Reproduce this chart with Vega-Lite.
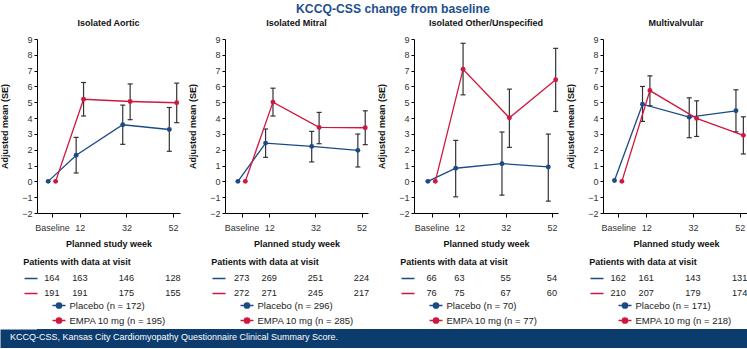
{
  "$schema": "https://vega.github.io/schema/vega-lite/v6.json",
  "padding": {"left": 0, "top": 2, "right": 0, "bottom": 0},
  "background": "white",
  "title": {"text": "KCCQ-CSS change from baseline", "anchor": "middle", "dx": 18, "fontSize": 12.2, "fontWeight": "bold", "color": "#1e4f8c", "offset": 4},
  "datasets": {
    "means": [
      {"panel": "Isolated Aortic", "group": "Placebo", "week": 0, "mean": 0, "lo": null, "hi": null},
      {"panel": "Isolated Aortic", "group": "Placebo", "week": 12, "mean": 1.65, "lo": 0.53, "hi": 2.78},
      {"panel": "Isolated Aortic", "group": "Placebo", "week": 32, "mean": 3.58, "lo": 2.34, "hi": 4.82},
      {"panel": "Isolated Aortic", "group": "Placebo", "week": 52, "mean": 3.28, "lo": 1.9, "hi": 4.67},
      {"panel": "Isolated Aortic", "group": "EMPA", "week": 0, "mean": 0, "lo": null, "hi": null},
      {"panel": "Isolated Aortic", "group": "EMPA", "week": 12, "mean": 5.19, "lo": 4.13, "hi": 6.25},
      {"panel": "Isolated Aortic", "group": "EMPA", "week": 32, "mean": 5.05, "lo": 3.9, "hi": 6.16},
      {"panel": "Isolated Aortic", "group": "EMPA", "week": 52, "mean": 4.97, "lo": 3.71, "hi": 6.21},
      {"panel": "Isolated Mitral", "group": "Placebo", "week": 0, "mean": 0, "lo": null, "hi": null},
      {"panel": "Isolated Mitral", "group": "Placebo", "week": 12, "mean": 2.42, "lo": 1.52, "hi": 3.31},
      {"panel": "Isolated Mitral", "group": "Placebo", "week": 32, "mean": 2.21, "lo": 1.23, "hi": 3.16},
      {"panel": "Isolated Mitral", "group": "Placebo", "week": 52, "mean": 1.96, "lo": 0.91, "hi": 2.99},
      {"panel": "Isolated Mitral", "group": "EMPA", "week": 0, "mean": 0, "lo": null, "hi": null},
      {"panel": "Isolated Mitral", "group": "EMPA", "week": 12, "mean": 5.01, "lo": 4.13, "hi": 5.89},
      {"panel": "Isolated Mitral", "group": "EMPA", "week": 32, "mean": 3.41, "lo": 2.38, "hi": 4.36},
      {"panel": "Isolated Mitral", "group": "EMPA", "week": 52, "mean": 3.39, "lo": 2.32, "hi": 4.46},
      {"panel": "Isolated Other/Unspecified", "group": "Placebo", "week": 0, "mean": 0, "lo": null, "hi": null},
      {"panel": "Isolated Other/Unspecified", "group": "Placebo", "week": 12, "mean": 0.83, "lo": -0.98, "hi": 2.59},
      {"panel": "Isolated Other/Unspecified", "group": "Placebo", "week": 32, "mean": 1.12, "lo": -0.87, "hi": 3.12},
      {"panel": "Isolated Other/Unspecified", "group": "Placebo", "week": 52, "mean": 0.91, "lo": -1.25, "hi": 2.99},
      {"panel": "Isolated Other/Unspecified", "group": "EMPA", "week": 0, "mean": 0, "lo": null, "hi": null},
      {"panel": "Isolated Other/Unspecified", "group": "EMPA", "week": 12, "mean": 7.09, "lo": 5.47, "hi": 8.73},
      {"panel": "Isolated Other/Unspecified", "group": "EMPA", "week": 32, "mean": 4.02, "lo": 2.15, "hi": 5.83},
      {"panel": "Isolated Other/Unspecified", "group": "EMPA", "week": 52, "mean": 6.42, "lo": 4.42, "hi": 8.41},
      {"panel": "Multivalvular", "group": "Placebo", "week": 0, "mean": 0.05, "lo": null, "hi": null},
      {"panel": "Multivalvular", "group": "Placebo", "week": 12, "mean": 4.88, "lo": 3.79, "hi": 6.0},
      {"panel": "Multivalvular", "group": "Placebo", "week": 32, "mean": 4.06, "lo": 2.76, "hi": 5.28},
      {"panel": "Multivalvular", "group": "Placebo", "week": 52, "mean": 4.46, "lo": 3.13, "hi": 5.79},
      {"panel": "Multivalvular", "group": "EMPA", "week": 0, "mean": 0, "lo": null, "hi": null},
      {"panel": "Multivalvular", "group": "EMPA", "week": 12, "mean": 5.74, "lo": 4.78, "hi": 6.67},
      {"panel": "Multivalvular", "group": "EMPA", "week": 32, "mean": 3.98, "lo": 2.84, "hi": 5.09},
      {"panel": "Multivalvular", "group": "EMPA", "week": 52, "mean": 2.91, "lo": 1.73, "hi": 4.08}
    ],
    "counts": [
      {"panel": "Isolated Aortic", "group": "Placebo", "legend": "Placebo (n = 172)", "week": 0, "n": 164},
      {"panel": "Isolated Aortic", "group": "Placebo", "legend": "Placebo (n = 172)", "week": 12, "n": 163},
      {"panel": "Isolated Aortic", "group": "Placebo", "legend": "Placebo (n = 172)", "week": 32, "n": 146},
      {"panel": "Isolated Aortic", "group": "Placebo", "legend": "Placebo (n = 172)", "week": 52, "n": 128},
      {"panel": "Isolated Aortic", "group": "EMPA", "legend": "EMPA 10 mg (n = 195)", "week": 0, "n": 191},
      {"panel": "Isolated Aortic", "group": "EMPA", "legend": "EMPA 10 mg (n = 195)", "week": 12, "n": 191},
      {"panel": "Isolated Aortic", "group": "EMPA", "legend": "EMPA 10 mg (n = 195)", "week": 32, "n": 175},
      {"panel": "Isolated Aortic", "group": "EMPA", "legend": "EMPA 10 mg (n = 195)", "week": 52, "n": 155},
      {"panel": "Isolated Mitral", "group": "Placebo", "legend": "Placebo (n = 296)", "week": 0, "n": 273},
      {"panel": "Isolated Mitral", "group": "Placebo", "legend": "Placebo (n = 296)", "week": 12, "n": 269},
      {"panel": "Isolated Mitral", "group": "Placebo", "legend": "Placebo (n = 296)", "week": 32, "n": 251},
      {"panel": "Isolated Mitral", "group": "Placebo", "legend": "Placebo (n = 296)", "week": 52, "n": 224},
      {"panel": "Isolated Mitral", "group": "EMPA", "legend": "EMPA 10 mg (n = 285)", "week": 0, "n": 272},
      {"panel": "Isolated Mitral", "group": "EMPA", "legend": "EMPA 10 mg (n = 285)", "week": 12, "n": 271},
      {"panel": "Isolated Mitral", "group": "EMPA", "legend": "EMPA 10 mg (n = 285)", "week": 32, "n": 245},
      {"panel": "Isolated Mitral", "group": "EMPA", "legend": "EMPA 10 mg (n = 285)", "week": 52, "n": 217},
      {"panel": "Isolated Other/Unspecified", "group": "Placebo", "legend": "Placebo (n = 70)", "week": 0, "n": 66},
      {"panel": "Isolated Other/Unspecified", "group": "Placebo", "legend": "Placebo (n = 70)", "week": 12, "n": 63},
      {"panel": "Isolated Other/Unspecified", "group": "Placebo", "legend": "Placebo (n = 70)", "week": 32, "n": 55},
      {"panel": "Isolated Other/Unspecified", "group": "Placebo", "legend": "Placebo (n = 70)", "week": 52, "n": 54},
      {"panel": "Isolated Other/Unspecified", "group": "EMPA", "legend": "EMPA 10 mg (n = 77)", "week": 0, "n": 76},
      {"panel": "Isolated Other/Unspecified", "group": "EMPA", "legend": "EMPA 10 mg (n = 77)", "week": 12, "n": 75},
      {"panel": "Isolated Other/Unspecified", "group": "EMPA", "legend": "EMPA 10 mg (n = 77)", "week": 32, "n": 67},
      {"panel": "Isolated Other/Unspecified", "group": "EMPA", "legend": "EMPA 10 mg (n = 77)", "week": 52, "n": 60},
      {"panel": "Multivalvular", "group": "Placebo", "legend": "Placebo (n = 171)", "week": 0, "n": 162},
      {"panel": "Multivalvular", "group": "Placebo", "legend": "Placebo (n = 171)", "week": 12, "n": 161},
      {"panel": "Multivalvular", "group": "Placebo", "legend": "Placebo (n = 171)", "week": 32, "n": 143},
      {"panel": "Multivalvular", "group": "Placebo", "legend": "Placebo (n = 171)", "week": 52, "n": 131},
      {"panel": "Multivalvular", "group": "EMPA", "legend": "EMPA 10 mg (n = 218)", "week": 0, "n": 210},
      {"panel": "Multivalvular", "group": "EMPA", "legend": "EMPA 10 mg (n = 218)", "week": 12, "n": 207},
      {"panel": "Multivalvular", "group": "EMPA", "legend": "EMPA 10 mg (n = 218)", "week": 32, "n": 179},
      {"panel": "Multivalvular", "group": "EMPA", "legend": "EMPA 10 mg (n = 218)", "week": 52, "n": 174}
    ]
  },
  "vconcat": [
    {
      "hconcat": [
        {
          "vconcat": [
            {
              "width": 143, "height": 174,
              "title": {"text": "Isolated Aortic"},
              "data": {"name": "means"},
              "transform": [{"filter": {"field": "panel", "equal": "Isolated Aortic"}}],
              "encoding": {
                "x": {"field": "week", "type": "quantitative", "title": "Planned study week", "scale": {"domain": [-6.4, 55], "nice": false, "zero": false}, "axis": {"values": [0, 12, 32, 52], "labelExpr": "datum.value === 0 ? 'Baseline' : datum.label"}},
                "y": {"field": "mean", "type": "quantitative", "title": "Adjusted mean (SE)", "scale": {"domain": [-2, 9], "nice": false}, "axis": {"values": [-2, -1, 0, 1, 2, 3, 4, 5, 6, 7, 8, 9]}}
              },
              "layer": [
                {"transform": [{"filter": {"field": "group", "equal": "Placebo"}}], "layer": [
                  {"mark": {"type": "line", "color": "#1c4a87", "strokeWidth": 1.3, "xOffset": -3.7}},
                  {"transform": [{"filter": "isValid(datum.lo)"}], "mark": {"type": "rule", "color": "#333333", "strokeWidth": 1.2, "xOffset": -3.7}, "encoding": {"y": {"field": "lo", "type": "quantitative", "title": "Adjusted mean (SE)"}, "y2": {"field": "hi"}}},
                  {"transform": [{"filter": "isValid(datum.lo)"}], "mark": {"type": "tick", "orient": "horizontal", "color": "#333333", "size": 5, "thickness": 1.2, "opacity": 1, "xOffset": -3.7}, "encoding": {"y": {"field": "lo", "type": "quantitative", "title": "Adjusted mean (SE)"}}},
                  {"transform": [{"filter": "isValid(datum.hi)"}], "mark": {"type": "tick", "orient": "horizontal", "color": "#333333", "size": 5, "thickness": 1.2, "opacity": 1, "xOffset": -3.7}, "encoding": {"y": {"field": "hi", "type": "quantitative", "title": "Adjusted mean (SE)"}}},
                  {"mark": {"type": "point", "filled": true, "opacity": 1, "size": 24, "color": "#1c4a87", "xOffset": -3.7}}
                ]},
                {"transform": [{"filter": {"field": "group", "equal": "EMPA"}}], "layer": [
                  {"mark": {"type": "line", "color": "#d0173f", "strokeWidth": 1.3, "xOffset": 3.7}},
                  {"transform": [{"filter": "isValid(datum.lo)"}], "mark": {"type": "rule", "color": "#333333", "strokeWidth": 1.2, "xOffset": 3.7}, "encoding": {"y": {"field": "lo", "type": "quantitative", "title": "Adjusted mean (SE)"}, "y2": {"field": "hi"}}},
                  {"transform": [{"filter": "isValid(datum.lo)"}], "mark": {"type": "tick", "orient": "horizontal", "color": "#333333", "size": 5, "thickness": 1.2, "opacity": 1, "xOffset": 3.7}, "encoding": {"y": {"field": "lo", "type": "quantitative", "title": "Adjusted mean (SE)"}}},
                  {"transform": [{"filter": "isValid(datum.hi)"}], "mark": {"type": "tick", "orient": "horizontal", "color": "#333333", "size": 5, "thickness": 1.2, "opacity": 1, "xOffset": 3.7}, "encoding": {"y": {"field": "hi", "type": "quantitative", "title": "Adjusted mean (SE)"}}},
                  {"mark": {"type": "point", "filled": true, "opacity": 1, "size": 24, "color": "#d0173f", "xOffset": 3.7}}
                ]}
              ]
            },
            {
              "width": 143, "height": 31,
              "title": {"text": "Patients with data at visit", "anchor": "start", "frame": "bounds", "offset": 3},
              "data": {"name": "counts"},
              "transform": [{"filter": {"field": "panel", "equal": "Isolated Aortic"}}],
              "encoding": {
                "x": {"field": "week", "type": "quantitative", "scale": {"domain": [-6.4, 55], "nice": false, "zero": false}, "axis": null},
                "y": {"field": "group", "type": "nominal", "scale": {"type": "point", "padding": 0.5, "domain": ["Placebo", "EMPA"]}, "axis": {"title": null, "labels": false, "domain": false, "tickSize": 13, "tickWidth": 1.5, "tickColor": {"condition": {"test": "datum.value === 'Placebo'", "value": "#1c4a87"}, "value": "#d0173f"}}}
              },
              "layer": [
                {"mark": {"type": "text", "fontSize": 9.2, "color": "#222222"}, "encoding": {"text": {"field": "n", "type": "quantitative"}}},
                {"mark": {"type": "point", "filled": true, "opacity": 0}, "encoding": {
                  "fill": {"field": "legend", "type": "nominal", "sort": "descending", "scale": {"range": ["#1c4a87", "#d0173f"]}},
                  "stroke": {"field": "legend", "type": "nominal", "sort": "descending", "scale": {"range": ["#1c4a87", "#d0173f"]}}
                }}
              ]
            }
          ],
          "spacing": 57, "bounds": "flush",
          "resolve": {"scale": {"fill": "independent", "stroke": "independent"}, "legend": {"fill": "independent", "stroke": "independent"}}
        },
        {
          "vconcat": [
            {
              "width": 143, "height": 174,
              "title": {"text": "Isolated Mitral"},
              "data": {"name": "means"},
              "transform": [{"filter": {"field": "panel", "equal": "Isolated Mitral"}}],
              "encoding": {
                "x": {"field": "week", "type": "quantitative", "title": "Planned study week", "scale": {"domain": [-7.2, 54.8], "nice": false, "zero": false}, "axis": {"values": [0, 12, 32, 52], "labelExpr": "datum.value === 0 ? 'Baseline' : datum.label"}},
                "y": {"field": "mean", "type": "quantitative", "title": "Adjusted mean (SE)", "scale": {"domain": [-2, 9], "nice": false}, "axis": {"values": [-2, -1, 0, 1, 2, 3, 4, 5, 6, 7, 8, 9]}}
              },
              "layer": [
                {"transform": [{"filter": {"field": "group", "equal": "Placebo"}}], "layer": [
                  {"mark": {"type": "line", "color": "#1c4a87", "strokeWidth": 1.3, "xOffset": -3.7}},
                  {"transform": [{"filter": "isValid(datum.lo)"}], "mark": {"type": "rule", "color": "#333333", "strokeWidth": 1.2, "xOffset": -3.7}, "encoding": {"y": {"field": "lo", "type": "quantitative", "title": "Adjusted mean (SE)"}, "y2": {"field": "hi"}}},
                  {"transform": [{"filter": "isValid(datum.lo)"}], "mark": {"type": "tick", "orient": "horizontal", "color": "#333333", "size": 5, "thickness": 1.2, "opacity": 1, "xOffset": -3.7}, "encoding": {"y": {"field": "lo", "type": "quantitative", "title": "Adjusted mean (SE)"}}},
                  {"transform": [{"filter": "isValid(datum.hi)"}], "mark": {"type": "tick", "orient": "horizontal", "color": "#333333", "size": 5, "thickness": 1.2, "opacity": 1, "xOffset": -3.7}, "encoding": {"y": {"field": "hi", "type": "quantitative", "title": "Adjusted mean (SE)"}}},
                  {"mark": {"type": "point", "filled": true, "opacity": 1, "size": 24, "color": "#1c4a87", "xOffset": -3.7}}
                ]},
                {"transform": [{"filter": {"field": "group", "equal": "EMPA"}}], "layer": [
                  {"mark": {"type": "line", "color": "#d0173f", "strokeWidth": 1.3, "xOffset": 3.7}},
                  {"transform": [{"filter": "isValid(datum.lo)"}], "mark": {"type": "rule", "color": "#333333", "strokeWidth": 1.2, "xOffset": 3.7}, "encoding": {"y": {"field": "lo", "type": "quantitative", "title": "Adjusted mean (SE)"}, "y2": {"field": "hi"}}},
                  {"transform": [{"filter": "isValid(datum.lo)"}], "mark": {"type": "tick", "orient": "horizontal", "color": "#333333", "size": 5, "thickness": 1.2, "opacity": 1, "xOffset": 3.7}, "encoding": {"y": {"field": "lo", "type": "quantitative", "title": "Adjusted mean (SE)"}}},
                  {"transform": [{"filter": "isValid(datum.hi)"}], "mark": {"type": "tick", "orient": "horizontal", "color": "#333333", "size": 5, "thickness": 1.2, "opacity": 1, "xOffset": 3.7}, "encoding": {"y": {"field": "hi", "type": "quantitative", "title": "Adjusted mean (SE)"}}},
                  {"mark": {"type": "point", "filled": true, "opacity": 1, "size": 24, "color": "#d0173f", "xOffset": 3.7}}
                ]}
              ]
            },
            {
              "width": 143, "height": 31,
              "title": {"text": "Patients with data at visit", "anchor": "start", "frame": "bounds", "offset": 3},
              "data": {"name": "counts"},
              "transform": [{"filter": {"field": "panel", "equal": "Isolated Mitral"}}],
              "encoding": {
                "x": {"field": "week", "type": "quantitative", "scale": {"domain": [-7.2, 54.8], "nice": false, "zero": false}, "axis": null},
                "y": {"field": "group", "type": "nominal", "scale": {"type": "point", "padding": 0.5, "domain": ["Placebo", "EMPA"]}, "axis": {"title": null, "labels": false, "domain": false, "tickSize": 13, "tickWidth": 1.5, "tickColor": {"condition": {"test": "datum.value === 'Placebo'", "value": "#1c4a87"}, "value": "#d0173f"}}}
              },
              "layer": [
                {"mark": {"type": "text", "fontSize": 9.2, "color": "#222222"}, "encoding": {"text": {"field": "n", "type": "quantitative"}}},
                {"mark": {"type": "point", "filled": true, "opacity": 0}, "encoding": {
                  "fill": {"field": "legend", "type": "nominal", "sort": "descending", "scale": {"range": ["#1c4a87", "#d0173f"]}},
                  "stroke": {"field": "legend", "type": "nominal", "sort": "descending", "scale": {"range": ["#1c4a87", "#d0173f"]}}
                }}
              ]
            }
          ],
          "spacing": 57, "bounds": "flush",
          "resolve": {"scale": {"fill": "independent", "stroke": "independent"}, "legend": {"fill": "independent", "stroke": "independent"}}
        },
        {
          "vconcat": [
            {
              "width": 144, "height": 174,
              "title": {"text": "Isolated Other/Unspecified"},
              "data": {"name": "means"},
              "transform": [{"filter": {"field": "panel", "equal": "Isolated Other/Unspecified"}}],
              "encoding": {
                "x": {"field": "week", "type": "quantitative", "title": "Planned study week", "scale": {"domain": [-7.6, 54.6], "nice": false, "zero": false}, "axis": {"values": [0, 12, 32, 52], "labelExpr": "datum.value === 0 ? 'Baseline' : datum.label"}},
                "y": {"field": "mean", "type": "quantitative", "title": "Adjusted mean (SE)", "scale": {"domain": [-2, 9], "nice": false}, "axis": {"values": [-2, -1, 0, 1, 2, 3, 4, 5, 6, 7, 8, 9]}}
              },
              "layer": [
                {"transform": [{"filter": {"field": "group", "equal": "Placebo"}}], "layer": [
                  {"mark": {"type": "line", "color": "#1c4a87", "strokeWidth": 1.3, "xOffset": -3.7}},
                  {"transform": [{"filter": "isValid(datum.lo)"}], "mark": {"type": "rule", "color": "#333333", "strokeWidth": 1.2, "xOffset": -3.7}, "encoding": {"y": {"field": "lo", "type": "quantitative", "title": "Adjusted mean (SE)"}, "y2": {"field": "hi"}}},
                  {"transform": [{"filter": "isValid(datum.lo)"}], "mark": {"type": "tick", "orient": "horizontal", "color": "#333333", "size": 5, "thickness": 1.2, "opacity": 1, "xOffset": -3.7}, "encoding": {"y": {"field": "lo", "type": "quantitative", "title": "Adjusted mean (SE)"}}},
                  {"transform": [{"filter": "isValid(datum.hi)"}], "mark": {"type": "tick", "orient": "horizontal", "color": "#333333", "size": 5, "thickness": 1.2, "opacity": 1, "xOffset": -3.7}, "encoding": {"y": {"field": "hi", "type": "quantitative", "title": "Adjusted mean (SE)"}}},
                  {"mark": {"type": "point", "filled": true, "opacity": 1, "size": 24, "color": "#1c4a87", "xOffset": -3.7}}
                ]},
                {"transform": [{"filter": {"field": "group", "equal": "EMPA"}}], "layer": [
                  {"mark": {"type": "line", "color": "#d0173f", "strokeWidth": 1.3, "xOffset": 3.7}},
                  {"transform": [{"filter": "isValid(datum.lo)"}], "mark": {"type": "rule", "color": "#333333", "strokeWidth": 1.2, "xOffset": 3.7}, "encoding": {"y": {"field": "lo", "type": "quantitative", "title": "Adjusted mean (SE)"}, "y2": {"field": "hi"}}},
                  {"transform": [{"filter": "isValid(datum.lo)"}], "mark": {"type": "tick", "orient": "horizontal", "color": "#333333", "size": 5, "thickness": 1.2, "opacity": 1, "xOffset": 3.7}, "encoding": {"y": {"field": "lo", "type": "quantitative", "title": "Adjusted mean (SE)"}}},
                  {"transform": [{"filter": "isValid(datum.hi)"}], "mark": {"type": "tick", "orient": "horizontal", "color": "#333333", "size": 5, "thickness": 1.2, "opacity": 1, "xOffset": 3.7}, "encoding": {"y": {"field": "hi", "type": "quantitative", "title": "Adjusted mean (SE)"}}},
                  {"mark": {"type": "point", "filled": true, "opacity": 1, "size": 24, "color": "#d0173f", "xOffset": 3.7}}
                ]}
              ]
            },
            {
              "width": 144, "height": 31,
              "title": {"text": "Patients with data at visit", "anchor": "start", "frame": "bounds", "offset": 3},
              "data": {"name": "counts"},
              "transform": [{"filter": {"field": "panel", "equal": "Isolated Other/Unspecified"}}],
              "encoding": {
                "x": {"field": "week", "type": "quantitative", "scale": {"domain": [-7.6, 54.6], "nice": false, "zero": false}, "axis": null},
                "y": {"field": "group", "type": "nominal", "scale": {"type": "point", "padding": 0.5, "domain": ["Placebo", "EMPA"]}, "axis": {"title": null, "labels": false, "domain": false, "tickSize": 13, "tickWidth": 1.5, "tickColor": {"condition": {"test": "datum.value === 'Placebo'", "value": "#1c4a87"}, "value": "#d0173f"}}}
              },
              "layer": [
                {"mark": {"type": "text", "fontSize": 9.2, "color": "#222222"}, "encoding": {"text": {"field": "n", "type": "quantitative"}}},
                {"mark": {"type": "point", "filled": true, "opacity": 0}, "encoding": {
                  "fill": {"field": "legend", "type": "nominal", "sort": "descending", "scale": {"range": ["#1c4a87", "#d0173f"]}},
                  "stroke": {"field": "legend", "type": "nominal", "sort": "descending", "scale": {"range": ["#1c4a87", "#d0173f"]}}
                }}
              ]
            }
          ],
          "spacing": 57, "bounds": "flush",
          "resolve": {"scale": {"fill": "independent", "stroke": "independent"}, "legend": {"fill": "independent", "stroke": "independent"}}
        },
        {
          "vconcat": [
            {
              "width": 146, "height": 174,
              "title": {"text": "Multivalvular"},
              "data": {"name": "means"},
              "transform": [{"filter": {"field": "panel", "equal": "Multivalvular"}}],
              "encoding": {
                "x": {"field": "week", "type": "quantitative", "title": "Planned study week", "scale": {"domain": [-6.5, 56], "nice": false, "zero": false}, "axis": {"values": [0, 12, 32, 52], "labelExpr": "datum.value === 0 ? 'Baseline' : datum.label"}},
                "y": {"field": "mean", "type": "quantitative", "title": "Adjusted mean (SE)", "scale": {"domain": [-2, 9], "nice": false}, "axis": {"values": [-2, -1, 0, 1, 2, 3, 4, 5, 6, 7, 8, 9]}}
              },
              "layer": [
                {"transform": [{"filter": {"field": "group", "equal": "Placebo"}}], "layer": [
                  {"mark": {"type": "line", "color": "#1c4a87", "strokeWidth": 1.3, "xOffset": -3.7}},
                  {"transform": [{"filter": "isValid(datum.lo)"}], "mark": {"type": "rule", "color": "#333333", "strokeWidth": 1.2, "xOffset": -3.7}, "encoding": {"y": {"field": "lo", "type": "quantitative", "title": "Adjusted mean (SE)"}, "y2": {"field": "hi"}}},
                  {"transform": [{"filter": "isValid(datum.lo)"}], "mark": {"type": "tick", "orient": "horizontal", "color": "#333333", "size": 5, "thickness": 1.2, "opacity": 1, "xOffset": -3.7}, "encoding": {"y": {"field": "lo", "type": "quantitative", "title": "Adjusted mean (SE)"}}},
                  {"transform": [{"filter": "isValid(datum.hi)"}], "mark": {"type": "tick", "orient": "horizontal", "color": "#333333", "size": 5, "thickness": 1.2, "opacity": 1, "xOffset": -3.7}, "encoding": {"y": {"field": "hi", "type": "quantitative", "title": "Adjusted mean (SE)"}}},
                  {"mark": {"type": "point", "filled": true, "opacity": 1, "size": 24, "color": "#1c4a87", "xOffset": -3.7}}
                ]},
                {"transform": [{"filter": {"field": "group", "equal": "EMPA"}}], "layer": [
                  {"mark": {"type": "line", "color": "#d0173f", "strokeWidth": 1.3, "xOffset": 3.7}},
                  {"transform": [{"filter": "isValid(datum.lo)"}], "mark": {"type": "rule", "color": "#333333", "strokeWidth": 1.2, "xOffset": 3.7}, "encoding": {"y": {"field": "lo", "type": "quantitative", "title": "Adjusted mean (SE)"}, "y2": {"field": "hi"}}},
                  {"transform": [{"filter": "isValid(datum.lo)"}], "mark": {"type": "tick", "orient": "horizontal", "color": "#333333", "size": 5, "thickness": 1.2, "opacity": 1, "xOffset": 3.7}, "encoding": {"y": {"field": "lo", "type": "quantitative", "title": "Adjusted mean (SE)"}}},
                  {"transform": [{"filter": "isValid(datum.hi)"}], "mark": {"type": "tick", "orient": "horizontal", "color": "#333333", "size": 5, "thickness": 1.2, "opacity": 1, "xOffset": 3.7}, "encoding": {"y": {"field": "hi", "type": "quantitative", "title": "Adjusted mean (SE)"}}},
                  {"mark": {"type": "point", "filled": true, "opacity": 1, "size": 24, "color": "#d0173f", "xOffset": 3.7}}
                ]}
              ]
            },
            {
              "width": 146, "height": 31,
              "title": {"text": "Patients with data at visit", "anchor": "start", "frame": "bounds", "offset": 3},
              "data": {"name": "counts"},
              "transform": [{"filter": {"field": "panel", "equal": "Multivalvular"}}],
              "encoding": {
                "x": {"field": "week", "type": "quantitative", "scale": {"domain": [-6.5, 56], "nice": false, "zero": false}, "axis": null},
                "y": {"field": "group", "type": "nominal", "scale": {"type": "point", "padding": 0.5, "domain": ["Placebo", "EMPA"]}, "axis": {"title": null, "labels": false, "domain": false, "tickSize": 13, "tickWidth": 1.5, "tickColor": {"condition": {"test": "datum.value === 'Placebo'", "value": "#1c4a87"}, "value": "#d0173f"}}}
              },
              "layer": [
                {"mark": {"type": "text", "fontSize": 9.2, "color": "#222222"}, "encoding": {"text": {"field": "n", "type": "quantitative"}}},
                {"mark": {"type": "point", "filled": true, "opacity": 0}, "encoding": {
                  "fill": {"field": "legend", "type": "nominal", "sort": "descending", "scale": {"range": ["#1c4a87", "#d0173f"]}},
                  "stroke": {"field": "legend", "type": "nominal", "sort": "descending", "scale": {"range": ["#1c4a87", "#d0173f"]}}
                }}
              ]
            }
          ],
          "spacing": 57, "bounds": "flush",
          "resolve": {"scale": {"fill": "independent", "stroke": "independent"}, "legend": {"fill": "independent", "stroke": "independent"}}
        }
      ],
      "spacing": 7,
      "resolve": {"scale": {"fill": "independent", "stroke": "independent"}, "legend": {"fill": "independent", "stroke": "independent"}}
    },
    {
      "width": 710, "height": 19,
      "view": {"fill": "#0c3c6e", "stroke": null},
      "data": {"values": [{"note": ""}]},
      "mark": {"type": "text"},
      "encoding": {
        "text": {"field": "note", "type": "nominal"},
        "y": {"field": "note", "type": "nominal", "axis": {"title": null, "labels": false, "ticks": false, "domain": true, "domainColor": "#0c3c6e", "domainWidth": 74, "domainCap": "butt", "minExtent": 0}}
      },
      "title": {"text": "KCCQ-CSS, Kansas City Cardiomyopathy Questionnaire Clinical Summary Score.", "orient": "bottom", "anchor": "start", "frame": "bounds", "offset": -15, "dx": -27, "color": "#ffffff", "fontSize": 9, "fontWeight": "normal", "baseline": "top"}
    }
  ],
  "spacing": 2,
  "config": {
    "font": "Liberation Sans",
    "view": {"stroke": null},
    "title": {"font": "Liberation Sans", "fontSize": 9, "fontWeight": "bold", "color": "#111111", "offset": 7},
    "axis": {"grid": false, "domainColor": "#000000", "domainWidth": 1, "tickColor": "#000000", "tickWidth": 1, "labelColor": "#333333", "labelFontSize": 9, "labelFont": "Liberation Sans", "titleFont": "Liberation Sans", "titleFontSize": 9, "titleFontWeight": "bold", "titleColor": "#111111"},
    "axisX": {"tickSize": 4, "labelPadding": 6, "titlePadding": 7, "labelFlush": false, "labelOverlap": false},
    "axisY": {"tickSize": 3, "labelPadding": 2, "titlePadding": 12, "labelOverlap": false},
    "legend": {
      "orient": "none", "legendX": 14.5, "legendY": 28, "direction": "vertical", "title": null,
      "symbolType": "M-1,0L1,0M-0.4,0A0.4,0.4,0,1,0,0.4,0A0.4,0.4,0,1,0,-0.4,0Z",
      "symbolSize": 169, "symbolStrokeWidth": 1.5, "symbolOpacity": 1,
      "labelFontSize": 9.5, "labelColor": "#222222", "labelFont": "Liberation Sans", "labelOffset": 3,
      "rowPadding": 1, "padding": 0
    }
  }
}
